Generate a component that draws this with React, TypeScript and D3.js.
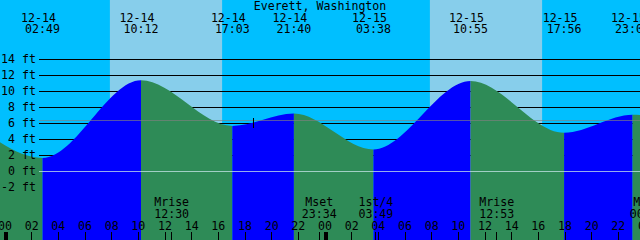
import React from "react";
import * as d3 from "d3";

const YEAR = 2023;
const title = "Everett, Washington";
const tideTimes = ["12-13 20:52", "12-14 02:49", "12-14 10:12", "12-14 17:03", "12-14 21:40", "12-15 03:38", "12-15 10:55", "12-15 17:56", "12-15 23:04", "12-16 04:35"];
const tideHeights = [7.2, 1.7, 11.4, 5.7, 7.25, 2.75, 11.3, 4.85, 7.1, 3.6];
const sunriseTimes = ["12-14 07:52", "12-15 07:52"];
const sunsetTimes = ["12-14 16:17", "12-15 16:17"];
const moonEventNames = ["Mrise", "Mset", "1st/4", "Mrise", "Mset"];
const moonEventTimes = ["12-14 12:30", "12-14 23:34", "12-15 03:49", "12-15 12:53", "12-16 00:10"];
const heightTicks = [-2, 0, 2, 4, 6, 8, 10, 12, 14];
const gridHeights = [2, 4, 6, 8, 10, 12, 14];
const meanSeaLevel = 6.375;
const markTimes = ["12-14 18:37"];
const startTime = "12-14 00:00";
const endTime = "12-16 00:00";

const W = 640;
const H = 240;
const FONT = "'DejaVu Sans Mono', monospace";
const FS = 11.6;
const NIGHT = "#00BFFF";
const DAY = "#87CEEB";
const FLOOD = "#0000FF";
const EBB = "#2E8B57";

function parse(s: string): Date {
  const [md, hm] = s.split(" ");
  const [mo, da] = md.split("-").map(Number);
  const [h, m] = hm.split(":").map(Number);
  return new Date(YEAR, mo - 1, da, h, m);
}

export default function App() {
  const x = d3.scaleTime().domain([parse(startTime), parse(endTime)]).range([5, 645]);
  const y = d3.scaleLinear().domain([0, 14]).range([171.5, 59.5]);

  const pts: [number, number][] = tideTimes.map((t, i) => [x(parse(t)), y(tideHeights[i])]);
  const area = d3
    .area<[number, number]>()
    .x((d) => d[0])
    .y0(H)
    .y1((d) => d[1])
    .curve(d3.curveMonotoneX);
  const areaPath = area(pts) || "";

  const segments = pts.slice(0, -1).map((p, i) => ({
    x0: p[0],
    x1: pts[i + 1][0],
    color: tideHeights[i + 1] > tideHeights[i] ? FLOOD : EBB,
  }));

  const hours = d3.timeHour.every(2)!.range(parse(startTime), new Date(parse(endTime).getTime() + 1));
  const fmtHour = d3.timeFormat("%H");
  const fmtDate = d3.timeFormat("%m-%d");
  const fmtTime = d3.timeFormat("%H:%M");

  const textStyle: React.CSSProperties = { fontFamily: FONT, fontSize: FS };

  return (
    <svg width={W} height={H} style={{ position: "absolute", left: 0, top: 0, display: "block" }}>
      <defs>
        <clipPath id="water">
          <path d={areaPath} />
        </clipPath>
      </defs>
      <rect x={0} y={0} width={W} height={H} fill={NIGHT} />
      {sunriseTimes.map((s, i) => {
        const x0 = x(parse(s));
        const x1 = x(parse(sunsetTimes[i]));
        return <rect key={"d" + i} x={x0} y={0} width={x1 - x0} height={H} fill={DAY} />;
      })}
      {gridHeights.map((g) => (
        <line key={"g" + g} x1={39} x2={W} y1={y(g)} y2={y(g)} stroke="#000" strokeWidth={1} />
      ))}
      <g clipPath="url(#water)">
        {segments.map((s, i) => (
          <rect key={"s" + i} x={s.x0} y={0} width={s.x1 - s.x0} height={H} fill={s.color} />
        ))}
      </g>
      <line x1={39} x2={W} y1={y(meanSeaLevel)} y2={y(meanSeaLevel)} stroke="#808080" strokeOpacity={0.65} strokeWidth={1} />
      <line x1={39} x2={W} y1={y(0)} y2={y(0)} stroke="#c8e6ea" strokeOpacity={0.75} strokeWidth={1} />
      {markTimes.map((m, i) => {
        const mx = Math.floor(x(parse(m))) + 0.5;
        return <line key={"m" + i} x1={mx} x2={mx} y1={y(meanSeaLevel) - 2.5} y2={y(meanSeaLevel) + 7.5} stroke="#000" />;
      })}
      <text x={320} y={10} textAnchor="middle" style={textStyle}>{title}</text>
      {tideTimes.map((t, i) => {
        const d = parse(t);
        const tx = x(d);
        if (tx < 0 || tx > W) return null;
        return (
          <g key={"t" + i}>
            <text x={tx - 4} y={21.5} textAnchor="middle" style={textStyle}>{fmtDate(d)}</text>
            <text x={tx} y={33.3} textAnchor="middle" style={textStyle}>{fmtTime(d)}</text>
          </g>
        );
      })}
      {heightTicks.map((v) => (
        <text key={"y" + v} x={36} y={y(v) + 3.6} textAnchor="end" style={textStyle}>{`${v} ft`}</text>
      ))}
      {moonEventTimes.map((t, i) => {
        const d = parse(t);
        const mx = x(d);
        return (
          <g key={"me" + i}>
            <text x={mx} y={206} textAnchor="middle" style={textStyle}>{moonEventNames[i]}</text>
            <text x={mx} y={218} textAnchor="middle" style={textStyle}>{fmtTime(d)}</text>
            <line x1={Math.floor(mx) + 0.5} x2={Math.floor(mx) + 0.5} y1={232} y2={H} stroke="#000" />
          </g>
        );
      })}
      {hours.map((h, i) => {
        const hx = x(h);
        const midnight = h.getHours() === 0;
        return (
          <g key={"h" + i}>
            <text x={hx} y={229.5} textAnchor="middle" style={textStyle}>{fmtHour(h)}</text>
            {midnight ? (
              <rect x={Math.floor(hx) - 1} y={232} width={4} height={H - 232} fill="#000" />
            ) : (
              <line x1={Math.floor(hx) + 0.5} x2={Math.floor(hx) + 0.5} y1={232} y2={H} stroke="#000" />
            )}
          </g>
        );
      })}
    </svg>
  );
}
